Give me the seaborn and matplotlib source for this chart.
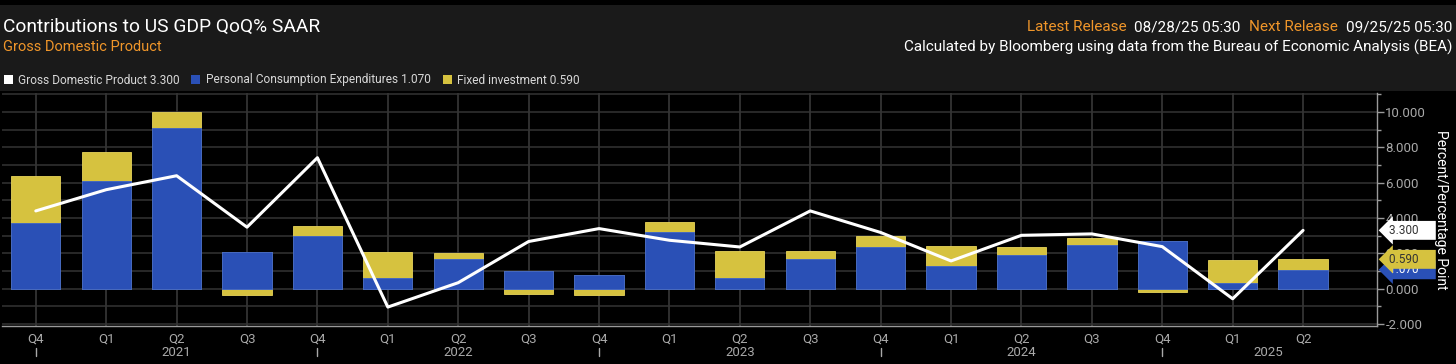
import matplotlib
matplotlib.use("Agg")
import matplotlib.pyplot as plt
import matplotlib.patches as mpatches
import matplotlib.transforms as mtransforms
from matplotlib.ticker import MultipleLocator, FormatStrFormatter
import pandas as pd
import seaborn as sns

# Quarters from Q4 2020 to Q2 2025
quarters = ["Q4", "Q1", "Q2", "Q3", "Q4", "Q1", "Q2", "Q3", "Q4", "Q1",
            "Q2", "Q3", "Q4", "Q1", "Q2", "Q3", "Q4", "Q1", "Q2"]
years = ["2021", "2022", "2023", "2024", "2025"]
year_pos = [2, 6, 10, 14, 17.5]

gdp = [4.40, 5.60, 6.39, 3.48, 7.41, -1.04, 0.34, 2.67, 3.40, 2.74,
       2.36, 4.40, 3.18, 1.57, 3.02, 3.10, 2.38, -0.57, 3.30]
pce = [3.74, 6.11, 9.07, 2.08, 3.00, 0.62, 1.68, 1.02, 0.78, 3.21,
       0.62, 1.68, 2.34, 1.27, 1.91, 2.50, 2.67, 0.30, 1.07]
fixed_inv = [2.65, 1.64, 0.95, -0.36, 0.53, 1.46, 0.34, -0.32, -0.38, 0.57,
             1.52, 0.46, 0.63, 1.17, 0.43, 0.37, -0.21, 1.31, 0.59]

BLUE = "#2a50b6"
YELLOW = "#d6c23f"
HEADER_BG = "#1a1a1a"
ORANGE = "#f0962a"
TICK_GREY = "#a9a9a9"

sns.set_style("dark")
plt.rcParams["font.family"] = ["Roboto", "DejaVu Sans"]

df = pd.DataFrame({"idx": range(len(quarters)), "gdp": gdp, "pce": pce, "fi": fixed_inv})
df["stack_top"] = df["pce"] + df["fi"].clip(lower=0)
df["fi_neg"] = df["fi"].clip(upper=0)

fig = plt.figure(figsize=(14.56, 3.64), dpi=100, facecolor="black")
fig.patches.append(mpatches.Rectangle((0, 1 - 91 / 364), 1, 86 / 364, transform=fig.transFigure,
                                      facecolor=HEADER_BG, edgecolor="none", zorder=0))

ax = fig.add_axes([2 / 1456, 1 - 326 / 364, 1375 / 1456, 233 / 364])
ax.set_facecolor("black")

bar_kw = dict(x="idx", width=0.7, saturation=1, ax=ax, linewidth=0.6)
sns.barplot(data=df, y="stack_top", color=YELLOW, edgecolor="#e8d45a", **bar_kw)
sns.barplot(data=df, y="fi_neg", color=YELLOW, edgecolor="#e8d45a", **bar_kw)
sns.barplot(data=df, y="pce", color=BLUE, edgecolor="#3b62c8", **bar_kw)
sns.lineplot(data=df, x="idx", y="gdp", color="white", linewidth=2.2, ax=ax, sort=False)

ax.set_xlim(-0.48, 19.05)
ax.set_ylim(-2.11, 11.07)

# grid
ax.yaxis.set_major_locator(MultipleLocator(2))
ax.yaxis.set_minor_locator(MultipleLocator(1))
ax.yaxis.set_major_formatter(FormatStrFormatter("%.3f"))
ax.grid(axis="y", which="both", color="#343434", linewidth=1.1)
ax.grid(axis="x", which="major", color="#3d3d3d", linewidth=1.1)
ax.set_axisbelow(True)

ax.set_xticks(range(len(quarters)))
ax.set_xticklabels(quarters)
ax.tick_params(axis="x", length=0, pad=5, colors=TICK_GREY, labelsize=9.5)

ax.yaxis.tick_right()
ax.tick_params(axis="y", which="major", direction="out", length=5, width=1, colors="#9a9a9a",
               labelcolor=TICK_GREY, labelsize=9.5, pad=1)
ax.tick_params(axis="y", which="minor", direction="out", length=3, width=1, colors="#9a9a9a")

for side in ["left", "top"]:
    ax.spines[side].set_visible(False)
for side in ["right", "bottom"]:
    ax.spines[side].set_color("#9a9a9a")
    ax.spines[side].set_linewidth(1)

ax.set_xlabel("")
ax.set_ylabel("Percent/Percentage Point", rotation=270, color="white", fontsize=10, va="center")
ax.yaxis.set_label_position("right")
ax.yaxis.set_label_coords(1.0515, 0.5)

# year labels and separators
trans = mtransforms.blended_transform_factory(ax.transData, ax.transAxes)
for yr, pos in zip(years, year_pos):
    ax.text(pos, -0.112, yr, transform=trans, ha="center", va="center",
            color=TICK_GREY, fontsize=9.5)
for i, q in enumerate(quarters):
    if q == "Q4":
        ax.plot([i, i], [-0.095, -0.128], transform=trans, color=TICK_GREY,
                linewidth=1, clip_on=False)

# last value tags
tag_trans = mtransforms.blended_transform_factory(ax.transAxes, ax.transData)
tags = [
    (pce[-1], f"{pce[-1]:.3f}", BLUE, "white"),
    (pce[-1] + fixed_inv[-1], f"{fixed_inv[-1]:.3f}", YELLOW, "#333333"),
    (gdp[-1], f"{gdp[-1]:.3f}", "white", "#333333"),
]
for yv, label, fc, tc in tags:
    ax.text(1.0087, yv, label + "     ", transform=tag_trans, ha="left", va="center",
            fontsize=8.5, color=tc, clip_on=False, zorder=5,
            bbox=dict(boxstyle="larrow,pad=0.25", facecolor=fc, edgecolor="none"))

# header
fig.text(3 / 1456, 1 - 27 / 364, "Contributions to US GDP QoQ% SAAR", color="white",
         fontsize=13.8, ha="left", va="center")
fig.text(3 / 1456, 1 - 47 / 364, "Gross Domestic Product", color=ORANGE,
         fontsize=10.5, ha="left", va="center")
fig.text(1452 / 1456, 1 - 47 / 364,
         "Calculated by Bloomberg using data from the Bureau of Economic Analysis (BEA)",
         color="white", fontsize=11, ha="right", va="center")

pieces = [("09/25/25 05:30", "white"), ("Next Release", ORANGE),
          ("08/28/25 05:30", "white"), ("Latest Release", ORANGE)]
renderer = fig.canvas.get_renderer()
right_px = 1452
for txt, col in pieces:
    t = fig.text(right_px / 1456, 1 - 27 / 364, txt, color=col, fontsize=11,
                 ha="right", va="center")
    right_px -= t.get_window_extent(renderer).width + 8

# legend
handles = [mpatches.Patch(facecolor="white", edgecolor="none"),
           mpatches.Patch(facecolor=BLUE, edgecolor="none"),
           mpatches.Patch(facecolor=YELLOW, edgecolor="none")]
labels = [f"Gross Domestic Product {gdp[-1]:.3f}",
          f"Personal Consumption Expenditures {pce[-1]:.3f}",
          f"Fixed investment {fixed_inv[-1]:.3f}"]
leg = fig.legend(handles, labels, loc="center left", bbox_to_anchor=(0.0, 1 - 80 / 364),
                 ncol=3, frameon=False, fontsize=8.6, handlelength=0.75, handleheight=0.75,
                 handletextpad=0.45, columnspacing=1.0, borderaxespad=0, borderpad=0.3)
for t in leg.get_texts():
    t.set_color("#d8d8d8")

fig.savefig("out.png", dpi=100, facecolor="black")
